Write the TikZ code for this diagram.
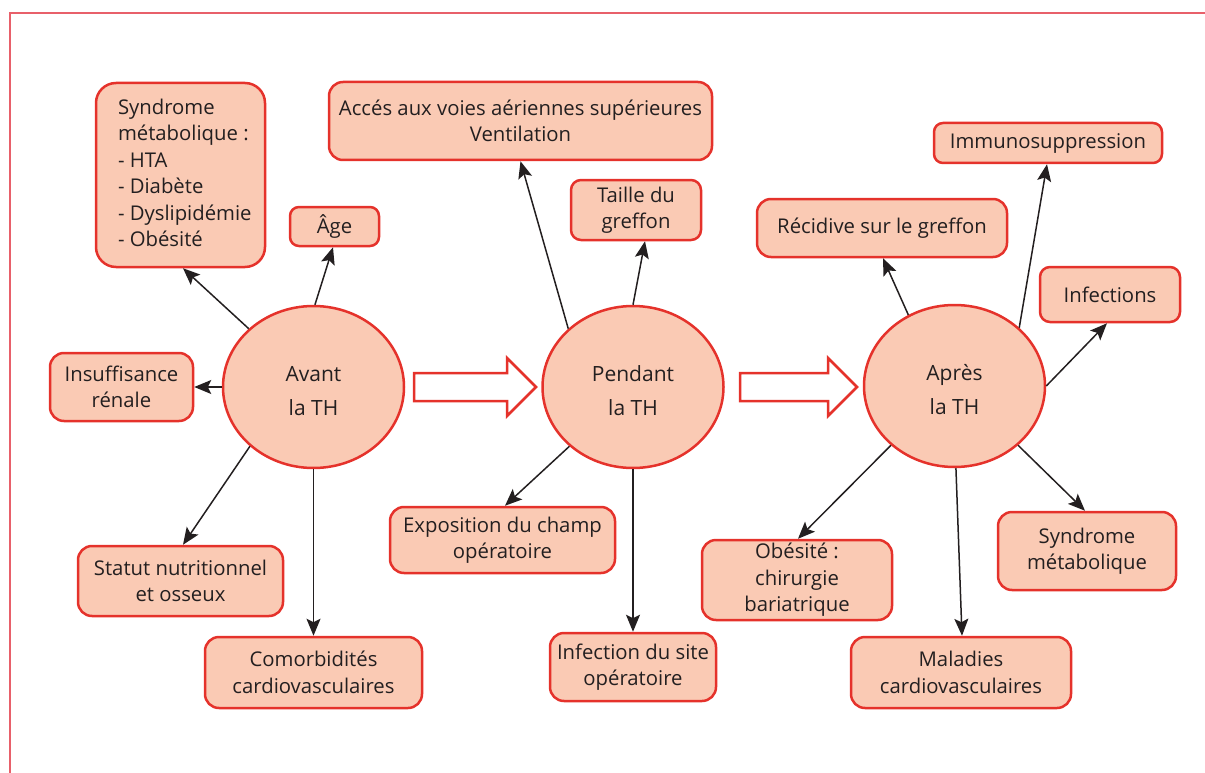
\documentclass[tikz,border=0pt]{standalone}
\usepackage{fontspec}
\setmainfont{Open Sans}
\usetikzlibrary{arrows.meta,shapes.geometric}
\definecolor{bred}{HTML}{E5322B}
\definecolor{bfill}{HTML}{FACAB4}
\definecolor{framec}{HTML}{E8606A}
\definecolor{ink}{HTML}{231F20}
\newcommand\fsz{\fontsize{20.3}{26.5}\selectfont}
\newcommand\fszb{\fontsize{21}{34}\selectfont}
\begin{document}
\begin{tikzpicture}[x=1pt,y=-1pt,
  box/.style={draw=bred, fill=bfill, line width=2.5pt, rounded corners=14pt, align=center, text=ink, font=\fsz, inner sep=0pt},
  bubble/.style={ellipse, draw=bred, fill=bfill, line width=2.5pt, minimum width=181pt, minimum height=162pt, inner sep=0pt, align=center, text=ink, font=\fszb},
  conn/.style={draw=ink, line width=1.5pt, -{Stealth[length=17pt,width=14pt,inset=3.5pt]}},
  bigarrow/.style={draw=bred, line width=2.5pt, fill=white, line join=miter}]
\useasboundingbox (0,0) rectangle (1205,773);
\draw[framec, line width=1.6pt] (10,773) -- (10,13) -- (1205,13);

% circles
\node[bubble] (avant) at (313.5,387) {\strut Avant\\la TH};
\node[bubble] (pendant) at (633,387) {\strut Pendant\\la TH};
\node[bubble] (apres) at (954.5,386) {\strut Après\\la TH};

% big arrows
\draw[bigarrow] (414,373) -- (507,373) -- (507,358) -- (536,387) -- (507,416) -- (507,401) -- (414,401) -- cycle;
\draw[bigarrow] (740,373) -- (828,373) -- (828,358) -- (857,387) -- (828,416) -- (828,401) -- (740,401) -- cycle;

% Avant boxes
\node[box, minimum width=169pt, minimum height=184pt, rounded corners=20pt] (synd) at (180.5,175)
  {\makebox[125pt][l]{\begin{tabular}{@{}l@{}}Syndrome\\ métabolique :\\ - HTA\\ - Diabète\\ - Dyslipidémie\\ - Obésité\end{tabular}}};
\node[box, minimum width=89pt, minimum height=39pt, rounded corners=9pt] (age) at (334.5,226.5) {Âge};
\node[box, minimum width=143pt, minimum height=68pt] (insuf) at (121.5,387) {Insuffisance\\rénale};
\node[box, minimum width=205pt, minimum height=70pt] (statut) at (180.5,581) {Statut nutritionnel\\et osseux};
\node[box, minimum width=217pt, minimum height=71pt] (comorb) at (313.5,672.5) {Comorbidités\\cardiovasculaires};

% Pendant boxes
\node[box, minimum width=383pt, minimum height=78pt] (acces) at (520.5,121) {Accés aux voies aériennes supérieures\\Ventilation};
\node[box, minimum width=130pt, minimum height=60pt, rounded corners=10pt] (taille) at (636,210) {Taille du\\greffon};
\node[box, minimum width=225pt, minimum height=66pt] (expo) at (502.5,540) {Exposition du champ\\opératoire};
\node[box, minimum width=166pt, minimum height=68pt] (infect) at (633,667) {Infection du site\\opératoire};

% Apres boxes
\node[box, minimum width=228pt, minimum height=40pt, rounded corners=9pt] (immuno) at (1048,143) {Immunosuppression};
\node[box, minimum width=250pt, minimum height=58pt] (recid) at (882,228) {Récidive sur le greffon};
\node[box, minimum width=140pt, minimum height=55pt, rounded corners=10pt] (infs) at (1110,294.5) {Infections};
\node[box, minimum width=178pt, minimum height=78pt] (syndr) at (1087,551) {Syndrome\\métabolique};
\node[box, minimum width=190pt, minimum height=80pt] (obes) at (797,580) {Obésité :\\chirurgie\\bariatrique};
\node[box, minimum width=220pt, minimum height=71pt] (malad) at (961,672.5) {Maladies\\cardiovasculaires};

% connectors
\draw[conn] (avant.138.5) -- ([xshift=2.5pt]synd.south);
\draw[conn] (avant.89) -- ([xshift=-1.5pt]age.south);
\draw[conn] (avant.180) -- (insuf.east);
\draw[conn] (avant.223.4) -- ([xshift=2.5pt]statut.north);
\draw[conn] (avant.270) -- (comorb.north);

\draw[conn] (pendant.138.3) -- (acces.south);
\draw[conn] (pendant.90) -- ([xshift=9pt]taille.south);
\draw[conn] (pendant.223.6) -- ([xshift=2.5pt]expo.north);
\draw[conn] (pendant.270) -- (infect.north);

\draw[conn] (apres.42.2) -- ([xshift=-1pt]immuno.south);
\draw[conn] (apres.123.4) -- ([xshift=1pt]recid.south);
\draw[conn] (apres.0) -- ([xshift=-3pt]infs.south);
\draw[conn] (apres.317.3) -- ([xshift=-2pt]syndr.north);
\draw[conn] (apres.223.1) -- ([xshift=1pt]obes.north);
\draw[conn] (apres.271) -- ([xshift=1pt]malad.north);
\end{tikzpicture}
\end{document}
